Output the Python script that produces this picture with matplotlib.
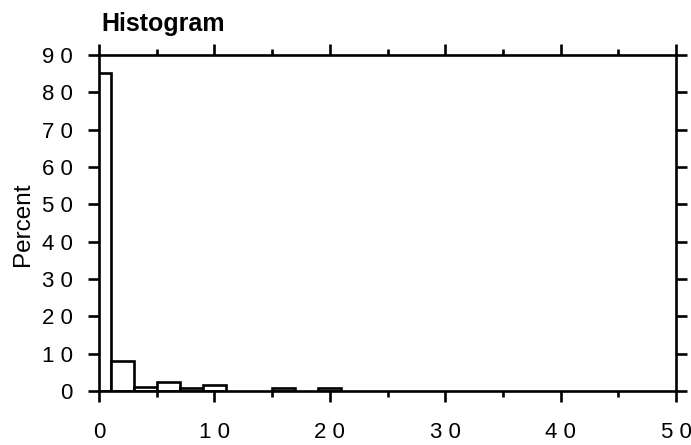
import matplotlib
matplotlib.use('Agg')
import matplotlib.pyplot as plt
from matplotlib.ticker import MultipleLocator

plt.rcParams['font.family'] = ['Liberation Sans', 'DejaVu Sans']

# histogram bins (width 2, centred on even values), percent per bin
bin_centers = [0, 2, 4, 6, 8, 10, 16, 20]
percent = [85.2, 8.0, 1.0, 2.4, 0.9, 1.7, 0.9, 0.8]
bin_width = 2

x_ticks = [0, 10, 20, 30, 40, 50]
x_ticklabels = ['0', '1 0', '2 0', '3 0', '4 0', '5 0']
y_ticks = [0, 10, 20, 30, 40, 50, 60, 70, 80, 90]
y_ticklabels = ['0', '1 0', '2 0', '3 0', '4 0', '5 0', '6 0', '7 0', '8 0', '9 0']

W, H = 691, 445
fig = plt.figure(figsize=(W / 100, H / 100), dpi=100)
fig.set_facecolor('white')
ax = fig.add_axes([99 / W, 1 - 391 / H, (676 - 99) / W, (391 - 55) / H])

ax.bar(bin_centers, percent, width=bin_width, facecolor='white',
       edgecolor='black', linewidth=1.9, zorder=2)

ax.set_xlim(0, 50)
ax.set_ylim(0, 90)
ax.set_xticks(x_ticks)
ax.set_xticklabels(x_ticklabels)
ax.set_yticks(y_ticks)
ax.set_yticklabels(y_ticklabels)
ax.xaxis.set_minor_locator(MultipleLocator(5))

for s in ax.spines.values():
    s.set_linewidth(1.9)
    s.set_zorder(3)

ax.tick_params(which='major', direction='out', length=8, width=1.9,
               top=True, right=True, labelsize=16, colors='black')
ax.tick_params(axis='x', which='major', pad=14)
ax.tick_params(axis='y', which='major', pad=11)
ax.tick_params(axis='x', which='minor', direction='out', length=4.5,
               width=1.9, top=True, bottom=True)

fig.text(101 / W, 1 - 30.5 / H, 'Histogram', fontsize=18, fontweight='bold',
         ha='left', va='baseline')
fig.text(23 / W, 1 - 224 / H, 'Percent', fontsize=17.5, rotation=90,
         ha='center', va='center')

fig.savefig('out.png', dpi=100)
